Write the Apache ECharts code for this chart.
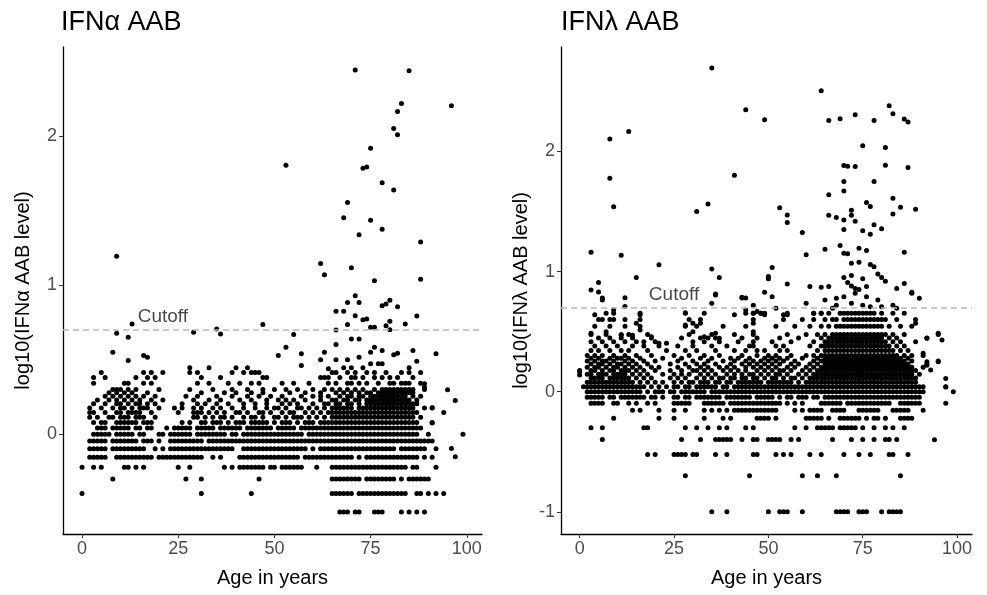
<!DOCTYPE html>
<html>
<head>
<meta charset="utf-8">
<script src="https://cdn.jsdelivr.net/npm/echarts@6/dist/echarts.min.js"></script>
<style>
  html, body { margin: 0; padding: 0; background: #fff; }
  #chart { width: 987px; height: 595px; }
</style>
</head>
<body>
<div id="chart"></div>
<script>
// log10 levels that show up as horizontal rows (values are rounded to 0.1 before the log)
let alphaLevels = [-0.523, -0.398, -0.301, -0.222, -0.155, -0.097, -0.046, 0, 0.041, 0.079, 0.114, 0.146, 0.176, 0.204, 0.230, 0.255, 0.279, 0.301, 0.342, 0.380, 0.415, 0.447];
let alphaAges = [
  [67, 68, 69, 71, 72, 76, 77, 78, 83, 85, 87, 89],
  [0, 31, 44, 65, 66, 67, 68, 69, 70, 72, 73, 74, 75, 76, 77, 78, 79, 80, 81, 82, 83, 84, 87, 88, 90, 92, 94],
  [8, 27, 31, 46, 65, 66, 67, 68, 69, 70, 71, 72, 74, 75, 76, 77, 78, 79, 80, 81, 83, 85, 86, 87, 88, 89, 90],
  [0, 3, 5, 11, 12, 14, 16, 25, 28, 37, 39, 41, 42, 43, 44, 45, 46, 47, 49, 50, 52, 53, 54, 55, 56, 57, 61, 65, 66, 67, 68, 69, 70, 71, 72, 73, 74, 75, 76, 77, 78, 79, 80, 81, 82, 83, 84, 86, 87, 92],
  [2, 3, 4, 5, 6, 9, 10, 11, 12, 13, 14, 15, 16, 17, 18, 20, 21, 22, 23, 24, 25, 26, 27, 28, 29, 30, 31, 34, 36, 41, 42, 43, 44, 45, 46, 47, 48, 49, 50, 51, 52, 53, 54, 55, 56, 58, 59, 60, 61, 62, 63, 64, 65, 66, 67, 68, 69, 70, 72, 74, 75, 76, 77, 78, 79, 80, 81, 82, 83, 84, 85, 86, 87, 89, 91],
  [2, 3, 4, 5, 6, 8, 9, 10, 11, 12, 13, 14, 15, 16, 19, 21, 23, 24, 25, 26, 27, 28, 29, 30, 31, 32, 33, 34, 35, 36, 37, 38, 39, 42, 43, 44, 45, 46, 47, 48, 49, 50, 51, 52, 53, 54, 55, 56, 57, 58, 60, 62, 63, 64, 65, 66, 67, 68, 69, 70, 71, 72, 73, 74, 75, 76, 77, 78, 79, 80, 81, 83, 84, 85, 86, 87, 88, 89, 92],
  [2, 3, 4, 5, 6, 8, 9, 10, 11, 12, 13, 14, 16, 17, 18, 20, 23, 24, 25, 26, 27, 28, 29, 30, 31, 33, 34, 35, 36, 37, 38, 39, 40, 41, 42, 43, 44, 45, 46, 47, 48, 49, 50, 51, 52, 53, 54, 55, 56, 57, 58, 59, 60, 61, 62, 63, 64, 65, 66, 67, 68, 69, 70, 71, 72, 73, 74, 75, 76, 77, 78, 79, 80, 81, 82, 83, 84, 85, 86, 87, 88, 89, 90, 91],
  [3, 4, 5, 6, 7, 9, 10, 11, 12, 13, 15, 16, 20, 21, 23, 24, 25, 26, 27, 28, 30, 31, 32, 33, 34, 35, 36, 37, 39, 40, 42, 43, 44, 45, 46, 47, 48, 49, 50, 51, 52, 53, 54, 55, 56, 57, 59, 60, 61, 62, 63, 64, 65, 66, 67, 68, 69, 70, 71, 72, 73, 74, 75, 76, 77, 78, 79, 80, 81, 82, 83, 84, 85, 86, 87, 90, 99],
  [4, 5, 6, 8, 9, 10, 11, 12, 14, 15, 17, 18, 22, 24, 25, 26, 27, 28, 30, 31, 32, 33, 34, 36, 37, 38, 39, 40, 41, 43, 44, 45, 46, 47, 48, 49, 51, 52, 53, 54, 55, 57, 58, 59, 60, 61, 62, 63, 64, 65, 66, 67, 68, 69, 70, 71, 72, 73, 74, 75, 76, 77, 78, 79, 80, 81, 82, 83, 84, 85, 86, 87, 88],
  [3, 5, 6, 9, 10, 11, 12, 13, 14, 16, 17, 18, 26, 28, 31, 32, 34, 35, 36, 38, 40, 41, 42, 44, 45, 46, 47, 48, 50, 52, 53, 54, 56, 58, 59, 60, 62, 63, 64, 65, 66, 67, 68, 69, 70, 71, 72, 73, 74, 75, 76, 77, 78, 79, 80, 81, 82, 83, 84, 85, 86, 87, 91],
  [2, 4, 7, 8, 10, 11, 12, 14, 15, 16, 19, 29, 30, 32, 34, 36, 37, 39, 42, 44, 45, 47, 50, 51, 53, 55, 56, 57, 59, 61, 63, 65, 66, 67, 68, 69, 70, 71, 72, 73, 74, 75, 76, 77, 78, 79, 80, 81, 82, 83, 84, 85, 86, 88],
  [2, 3, 6, 9, 10, 12, 13, 14, 15, 18, 25, 29, 30, 31, 33, 35, 37, 40, 41, 43, 46, 47, 49, 52, 54, 55, 58, 60, 62, 64, 65, 66, 67, 68, 69, 70, 71, 72, 73, 74, 75, 76, 77, 78, 79, 80, 81, 82, 83, 84, 85, 86, 87],
  [2, 5, 8, 10, 11, 13, 15, 16, 17, 20, 24, 26, 29, 31, 34, 36, 39, 42, 45, 48, 50, 51, 53, 56, 57, 59, 61, 63, 65, 66, 67, 68, 69, 70, 72, 73, 74, 75, 76, 77, 78, 79, 80, 81, 82, 83, 84, 85, 86, 89, 91],
  [3, 6, 9, 10, 12, 14, 15, 17, 19, 26, 30, 32, 35, 38, 42, 45, 48, 52, 54, 56, 60, 63, 64, 66, 67, 69, 70, 72, 74, 75, 76, 77, 78, 79, 80, 81, 82, 83, 84, 85, 86, 87],
  [4, 7, 9, 11, 13, 15, 18, 21, 29, 33, 36, 41, 44, 48, 51, 53, 55, 58, 62, 65, 66, 68, 69, 71, 72, 74, 75, 76, 77, 78, 79, 80, 81, 82, 83, 84, 85, 87],
  [6, 8, 10, 12, 14, 16, 19, 27, 30, 35, 39, 43, 46, 49, 52, 57, 60, 62, 64, 67, 69, 70, 72, 73, 75, 76, 77, 78, 79, 80, 81, 82, 83, 84, 86, 88],
  [7, 9, 11, 13, 17, 31, 37, 40, 44, 47, 54, 58, 62, 66, 68, 70, 72, 74, 75, 77, 78, 79, 80, 81, 82, 83, 84, 85, 86],
  [8, 9, 10, 12, 14, 20, 28, 34, 39, 43, 47, 50, 53, 56, 60, 63, 65, 67, 69, 71, 73, 76, 78, 79, 80, 81, 82, 83, 84, 85, 86, 89],
  [3, 11, 12, 16, 18, 30, 33, 38, 41, 44, 46, 52, 55, 59, 64, 66, 69, 70, 72, 74, 77, 80, 81, 83, 84, 85, 88],
  [3, 6, 14, 17, 19, 31, 36, 47, 48, 62, 63, 64, 67, 70, 71, 73, 76, 78, 80, 82, 86],
  [5, 16, 18, 21, 28, 30, 39, 42, 44, 45, 46, 65, 66, 69, 71, 74, 76, 79, 83, 85, 88],
  [28, 33, 40, 43, 68, 70, 73, 85]
];
// loose points [age, log10 level]
let alphaLoose = [
  [71, 2.446], [85, 2.44], [83, 2.22], [96, 2.205], [82, 2.167], [81, 2.053], [82, 2.011], [75, 1.92],
  [53, 1.806], [73, 1.786], [74, 1.795], [78, 1.688], [81, 1.639], [69, 1.556], [68, 1.454], [75, 1.436],
  [78, 1.376], [72, 1.34], [88, 1.291], [9, 1.195], [62, 1.146], [70, 1.117], [63, 1.07], [76, 1.03],
  [88, 1.041], [71, 0.93], [80, 0.9], [69, 0.885], [72, 0.885], [78, 0.863], [79, 0.874], [82, 0.856],
  [66, 0.825], [68, 0.825], [71, 0.796], [87, 0.794], [73, 0.769], [74, 0.774], [80, 0.758], [69, 0.736],
  [75, 0.718], [76, 0.718], [79, 0.729], [80, 0.702], [84, 0.74], [66, 0.7], [70, 0.64], [72, 0.64],
  [13, 0.74], [9, 0.678], [12, 0.651], [29, 0.684], [35, 0.707], [36, 0.673], [47, 0.736], [55, 0.669],
  [53, 0.584], [66, 0.602], [63, 0.551], [8, 0.551], [75, 0.551], [76, 0.584], [78, 0.562], [81, 0.533],
  [82, 0.544], [86, 0.562], [92, 0.54], [57, 0.54], [51, 0.528], [16, 0.528], [17, 0.517], [12, 0.495],
  [66, 0.5], [69, 0.5], [72, 0.517], [62, 0.5], [57, 0.462], [87, 0.49], [75, 0.473], [77, 0.473],
  [78, 0.473], [64, 0.44], [89, 0.339], [89, 0.316], [95, 0.299], [97, 0.227], [94, 0.145],
  [96, -0.096], [97, -0.152], [91, 0.178], [91, 0.076]
];

let lambdaLevels = [-1, -0.699, -0.523, -0.398, -0.301, -0.222, -0.155, -0.097, -0.046, 0, 0.041, 0.079, 0.114, 0.146, 0.176, 0.204, 0.230, 0.255, 0.279, 0.301, 0.342, 0.380, 0.415, 0.447, 0.477, 0.544, 0.602, 0.653];
let lambdaAges = [
  [35, 39, 50, 53, 54, 55, 59, 68, 69, 70, 71, 74, 75, 76, 80, 82, 83, 84, 85],
  [28, 45, 59, 63, 68, 85],
  [18, 20, 25, 26, 27, 28, 30, 31, 36, 39, 46, 47, 52, 54, 56, 61, 64, 70, 74, 77, 82, 83, 87],
  [6, 27, 32, 36, 37, 38, 39, 40, 43, 46, 47, 50, 51, 52, 53, 56, 58, 67, 72, 75, 78, 81, 82, 84],
  [3, 6, 17, 18, 28, 31, 34, 37, 39, 44, 46, 57, 60, 63, 64, 65, 66, 67, 69, 70, 71, 72, 73, 75, 78, 81, 83, 86],
  [9, 21, 25, 33, 38, 40, 47, 48, 49, 50, 52, 60, 61, 62, 63, 64, 66, 69, 70, 71, 72, 73, 74, 76, 78, 79, 81, 85, 86, 87, 88],
  [14, 16, 21, 25, 28, 33, 35, 37, 39, 41, 42, 43, 44, 45, 46, 47, 48, 49, 50, 51, 52, 57, 59, 61, 62, 63, 64, 67, 68, 69, 70, 74, 75, 76, 77, 78, 79, 83, 84, 85, 86, 87, 91],
  [3, 4, 5, 6, 9, 10, 13, 15, 18, 20, 25, 26, 27, 28, 29, 33, 34, 35, 36, 37, 38, 40, 41, 42, 43, 44, 45, 46, 47, 48, 49, 50, 51, 52, 53, 55, 57, 59, 64, 65, 66, 67, 68, 69, 71, 72, 73, 74, 75, 76, 77, 78, 79, 80, 81, 82, 85, 86, 87, 88, 89, 90, 97],
  [2, 3, 4, 5, 6, 8, 9, 11, 12, 13, 14, 15, 16, 17, 19, 20, 22, 25, 26, 28, 29, 31, 32, 33, 34, 35, 36, 37, 39, 40, 41, 42, 43, 44, 45, 47, 48, 49, 50, 51, 53, 55, 56, 58, 59, 60, 62, 63, 65, 66, 67, 68, 69, 70, 71, 72, 73, 74, 75, 76, 77, 78, 79, 80, 81, 82, 83, 84, 85, 86, 87, 88, 89, 90],
  [2, 3, 4, 5, 6, 7, 8, 9, 10, 11, 12, 13, 14, 15, 16, 18, 20, 21, 22, 24, 25, 27, 28, 29, 30, 31, 32, 33, 35, 36, 37, 38, 39, 40, 41, 42, 43, 44, 45, 46, 47, 48, 49, 50, 51, 52, 53, 54, 55, 56, 57, 58, 59, 60, 61, 62, 63, 64, 65, 66, 67, 68, 69, 70, 71, 72, 73, 74, 75, 76, 77, 78, 79, 80, 81, 82, 83, 84, 85, 86, 87, 88, 89, 90, 91, 99],
  [1, 2, 3, 4, 5, 6, 7, 8, 9, 10, 11, 12, 13, 14, 15, 16, 17, 19, 21, 23, 25, 26, 28, 29, 31, 32, 33, 34, 35, 36, 38, 39, 41, 42, 43, 44, 45, 46, 47, 48, 49, 50, 51, 52, 53, 54, 55, 56, 57, 58, 59, 60, 61, 62, 63, 64, 65, 66, 67, 68, 69, 70, 71, 72, 73, 74, 75, 76, 77, 78, 79, 80, 81, 82, 83, 84, 85, 86, 87, 88, 89, 90, 91, 97],
  [2, 3, 4, 5, 6, 7, 8, 9, 10, 11, 12, 13, 14, 16, 18, 20, 22, 25, 27, 29, 30, 32, 33, 34, 36, 37, 39, 40, 42, 43, 44, 45, 46, 47, 48, 50, 51, 52, 53, 54, 55, 56, 58, 60, 61, 62, 63, 64, 65, 66, 67, 68, 69, 70, 71, 72, 73, 74, 75, 76, 77, 78, 79, 80, 81, 82, 83, 84, 85, 86, 87, 88, 89],
  [3, 4, 5, 6, 8, 9, 10, 11, 12, 13, 15, 17, 19, 24, 26, 28, 31, 33, 35, 37, 38, 40, 41, 43, 44, 46, 47, 49, 51, 52, 54, 56, 57, 59, 61, 62, 63, 64, 65, 66, 67, 68, 69, 70, 71, 72, 73, 74, 75, 76, 77, 78, 79, 80, 81, 82, 83, 84, 85, 86, 87, 88, 89],
  [2, 3, 5, 6, 7, 9, 10, 11, 12, 14, 16, 18, 22, 25, 27, 29, 32, 34, 36, 39, 41, 43, 45, 46, 48, 50, 52, 53, 55, 58, 60, 62, 63, 64, 65, 66, 67, 68, 69, 70, 71, 72, 73, 74, 75, 76, 77, 78, 79, 80, 81, 82, 83, 84, 85, 86, 87, 88, 90],
  [0, 3, 4, 6, 8, 9, 11, 12, 13, 15, 17, 20, 24, 27, 30, 31, 33, 35, 38, 40, 42, 44, 47, 49, 51, 53, 54, 56, 59, 61, 63, 64, 65, 66, 67, 68, 69, 70, 71, 72, 73, 74, 75, 76, 77, 78, 79, 80, 81, 82, 83, 84, 85, 86, 87, 88, 89],
  [2, 4, 5, 7, 9, 10, 12, 14, 16, 19, 21, 26, 29, 32, 34, 37, 39, 41, 44, 46, 48, 50, 52, 55, 57, 60, 62, 64, 65, 66, 67, 68, 69, 70, 71, 72, 73, 74, 75, 76, 77, 78, 79, 80, 81, 82, 83, 84, 85, 86, 87, 88, 91],
  [3, 5, 6, 8, 10, 11, 13, 15, 18, 24, 28, 31, 33, 36, 40, 43, 45, 47, 49, 51, 53, 56, 58, 61, 63, 65, 66, 67, 68, 69, 70, 71, 72, 73, 74, 75, 76, 77, 78, 79, 80, 81, 82, 83, 84, 85, 86, 87, 92],
  [2, 4, 6, 7, 9, 12, 14, 17, 20, 26, 30, 34, 38, 41, 44, 46, 48, 50, 52, 54, 57, 62, 64, 65, 66, 67, 68, 69, 70, 71, 72, 73, 74, 75, 76, 77, 78, 79, 80, 81, 82, 83, 84, 85, 86, 88, 95],
  [3, 5, 8, 10, 11, 13, 16, 22, 27, 32, 35, 40, 42, 45, 49, 51, 53, 55, 59, 63, 65, 66, 67, 68, 69, 70, 71, 72, 73, 74, 75, 76, 77, 78, 79, 80, 81, 82, 83, 84, 85, 87],
  [2, 4, 6, 9, 12, 15, 19, 25, 29, 33, 37, 43, 47, 50, 52, 56, 60, 62, 64, 65, 66, 67, 68, 69, 70, 71, 72, 73, 74, 75, 76, 77, 78, 79, 80, 81, 82, 83, 84, 86, 88, 91],
  [3, 5, 8, 11, 13, 18, 23, 28, 31, 36, 41, 44, 47, 49, 53, 55, 63, 65, 66, 67, 68, 69, 70, 71, 72, 73, 74, 75, 76, 77, 78, 79, 80, 81, 82, 83, 85, 87],
  [4, 7, 10, 14, 17, 21, 26, 30, 35, 39, 45, 46, 52, 54, 61, 64, 65, 66, 67, 68, 69, 70, 71, 72, 73, 74, 75, 76, 77, 78, 79, 80, 81, 82, 84, 86],
  [3, 6, 9, 12, 15, 17, 20, 30, 33, 37, 42, 46, 51, 56, 62, 65, 66, 67, 68, 69, 70, 71, 72, 73, 74, 75, 76, 77, 78, 79, 80, 81, 83, 85, 89],
  [5, 8, 11, 14, 19, 27, 32, 34, 36, 43, 47, 53, 58, 64, 66, 67, 68, 69, 70, 71, 72, 73, 74, 75, 76, 77, 78, 79, 80, 82, 84, 92],
  [3, 7, 11, 13, 18, 29, 35, 41, 46, 55, 60, 63, 65, 67, 68, 69, 70, 71, 72, 73, 74, 75, 76, 77, 78, 79, 80, 81, 83, 86, 95],
  [4, 8, 12, 16, 28, 31, 38, 44, 52, 57, 61, 64, 66, 68, 69, 70, 71, 72, 73, 74, 75, 76, 77, 78, 79, 80, 82, 85, 88],
  [5, 6, 9, 12, 16, 29, 32, 46, 54, 59, 62, 65, 67, 68, 70, 71, 72, 73, 74, 75, 76, 77, 78, 79, 80, 81, 84, 89],
  [7, 9, 16, 28, 33, 44, 46, 48, 49, 55, 62, 64, 66, 69, 70, 71, 72, 73, 74, 75, 76, 77, 78, 80, 83, 86]
];
let lambdaLoose = [
  [35, 2.695], [64, 2.506], [44, 2.347], [49, 2.264], [66, 2.258], [69, 2.273], [73, 2.306], [78, 2.258],
  [82, 2.381], [83, 2.314], [86, 2.27], [87, 2.245], [8, 2.103], [13, 2.167], [75, 2.048], [81, 2.033],
  [8, 1.778], [41, 1.803], [70, 1.883], [71, 1.878], [73, 1.875], [81, 1.886], [87, 1.867], [9, 1.539],
  [31, 1.5], [34, 1.562], [53, 1.531], [55, 1.472], [55, 1.409], [59, 1.325], [66, 1.639], [70, 1.75],
  [70, 1.672], [78, 1.75], [76, 1.575], [77, 1.542], [83, 1.611], [85, 1.536], [89, 1.52], [66, 1.47],
  [68, 1.45], [70, 1.43], [72, 1.51], [72, 1.47], [73, 1.42], [70, 1.35], [75, 1.34], [77, 1.31],
  [78, 1.39], [80, 1.356], [83, 1.48], [60, 1.14], [65, 1.187], [69, 1.217], [70, 1.153], [71, 1.148],
  [74, 1.195], [76, 1.175], [86, 1.161], [3, 1.161], [11, 1.136], [21, 1.056], [35, 1.022], [51, 1.033],
  [50, 0.96], [50, 0.94], [55, 0.897], [37, 0.95], [15, 0.95], [5, 0.91], [3, 0.847], [61, 0.875],
  [64, 0.87], [66, 0.875], [72, 1.07], [74, 1.078], [77, 1.06], [78, 1.04], [79, 0.98], [80, 0.95],
  [81, 0.92], [86, 0.9], [84, 0.86], [72, 0.967], [70, 0.95], [71, 0.91], [72, 0.88], [73, 0.86],
  [74, 0.85], [75, 0.94], [76, 0.875], [88, 0.828], [90, 0.778], [12, 0.783], [5, 0.83], [6, 0.78],
  [36, 0.814], [43, 0.78], [44, 0.78], [49, 0.828], [51, 0.79], [6, 0.764], [12, 0.71], [9, 0.68],
  [4, 0.64], [8, 0.6], [16, 0.64], [15, 0.57], [16, 0.514], [3, 0.487], [7, 0.5], [11, 0.47],
  [14, 0.47], [19, 0.458], [21, 0.403], [23, 0.403], [28, 0.658], [28, 0.556], [30, 0.57], [32, 0.57],
  [30, 0.5], [33, 0.458], [36, 0.487], [37, 0.445], [35, 0.737], [36, 0.806], [41, 0.64], [43, 0.787],
  [44, 0.68], [46, 0.72], [46, 0.653], [47, 0.667], [48, 0.653], [49, 0.64], [46, 0.57], [46, 0.5],
  [52, 0.695], [54, 0.64], [55, 0.64], [60, 0.737], [62, 0.653], [64, 0.653], [65, 0.764], [67, 0.695],
  [68, 0.778], [70, 0.79], [68, 0.72], [72, 0.737], [73, 0.82], [76, 0.79], [75, 0.72], [77, 0.708],
  [79, 0.764], [80, 0.708], [83, 0.72], [84, 0.695], [88, 0.82], [89, 0.57], [92, 0.445], [95, 0.487],
  [96, 0.43], [95, 0.25], [97, 0.11], [97, 0.04], [94, -0.4], [92, 0.22], [93, 0.18], [92, 0.25],
  [91, 0.32], [0, 0.167], [0, 0.139]
];

let cutoff = Math.log10(5);
let ageTicks = [0, 25, 50, 75, 100];
let alphaTicks = [0, 1, 2];
let lambdaTicks = [-1, 0, 1, 2];
let alphaCutoffLabel = [[21, 0.79]];
let lambdaCutoffLabel = [[25, 0.81]];

let buildPoints = (levels, ages, loose) => {
  let pts = [];
  levels.forEach((lv, i) => {
    ages[i].forEach((a) => pts.push([a, lv]));
  });
  return pts.concat(loose);
};

const FONT = "Liberation Sans";
const tickGrey = "#4d4d4d";

let xAxisFor = (gridIndex) => ({
  type: "value",
  gridIndex: gridIndex,
  min: -4.95,
  max: 103.95,
  name: "Age in years",
  nameLocation: "middle",
  nameGap: 34,
  nameTextStyle: { color: "#000", fontSize: 20, fontFamily: FONT },
  splitLine: { show: false },
  axisLine: { onZero: false, lineStyle: { color: "#000", width: 1.3 } },
  axisTick: { customValues: ageTicks, length: 4, lineStyle: { color: "#333" } },
  axisLabel: { customValues: ageTicks, color: tickGrey, fontSize: 18, fontFamily: FONT, margin: 6 }
});

let yAxisFor = (gridIndex, min, max, ticks, name) => ({
  type: "value",
  gridIndex: gridIndex,
  min: min,
  max: max,
  name: name,
  nameLocation: "middle",
  nameGap: 30,
  nameTextStyle: { color: "#000", fontSize: 20, fontFamily: FONT },
  splitLine: { show: false },
  axisLine: { onZero: false, lineStyle: { color: "#000", width: 1.3 } },
  axisTick: { customValues: ticks, length: 4, lineStyle: { color: "#333" } },
  axisLabel: { customValues: ticks, color: tickGrey, fontSize: 18, fontFamily: FONT, margin: 6 }
});

let pointSeries = (idx, data) => ({
  type: "scatter",
  xAxisIndex: idx,
  yAxisIndex: idx,
  data: data,
  symbolSize: 5,
  itemStyle: { color: "#000", opacity: 1 },
  silent: true,
  animation: false,
  markLine: {
    silent: true,
    symbol: "none",
    label: { show: false },
    lineStyle: { color: "#b8b8b8", type: [6, 4], width: 1.5 },
    data: [{ yAxis: cutoff }]
  }
});

let labelSeries = (idx, data) => ({
  type: "scatter",
  xAxisIndex: idx,
  yAxisIndex: idx,
  data: data,
  symbolSize: 0,
  silent: true,
  animation: false,
  label: {
    show: true,
    position: "inside",
    formatter: "Cutoff",
    color: "#1a1a1a",
    fontSize: 19,
    fontFamily: FONT
  }
});

let chart = echarts.init(document.getElementById("chart"), null, { renderer: "canvas" });
chart.setOption({
  backgroundColor: "#fff",
  animation: false,
  title: [
    { text: "IFNα AAB", left: 56, top: 4, textStyle: { fontSize: 27, fontWeight: "normal", color: "#000", fontFamily: FONT } },
    { text: "IFNλ AAB", left: 556, top: 4, textStyle: { fontSize: 27, fontWeight: "normal", color: "#000", fontFamily: FONT } }
  ],
  grid: [
    { left: 63, top: 47, width: 419, height: 487 },
    { left: 561, top: 47, width: 411, height: 487 }
  ],
  xAxis: [xAxisFor(0), xAxisFor(1)],
  yAxis: [
    yAxisFor(0, -0.67, 2.6, alphaTicks, "log10(IFNα AAB level)"),
    yAxisFor(1, -1.185, 2.87, lambdaTicks, "log10(IFNλ AAB level)")
  ],
  series: [
    pointSeries(0, buildPoints(alphaLevels, alphaAges, alphaLoose)),
    labelSeries(0, alphaCutoffLabel),
    pointSeries(1, buildPoints(lambdaLevels, lambdaAges, lambdaLoose)),
    labelSeries(1, lambdaCutoffLabel)
  ]
});
</script>
</body>
</html>
